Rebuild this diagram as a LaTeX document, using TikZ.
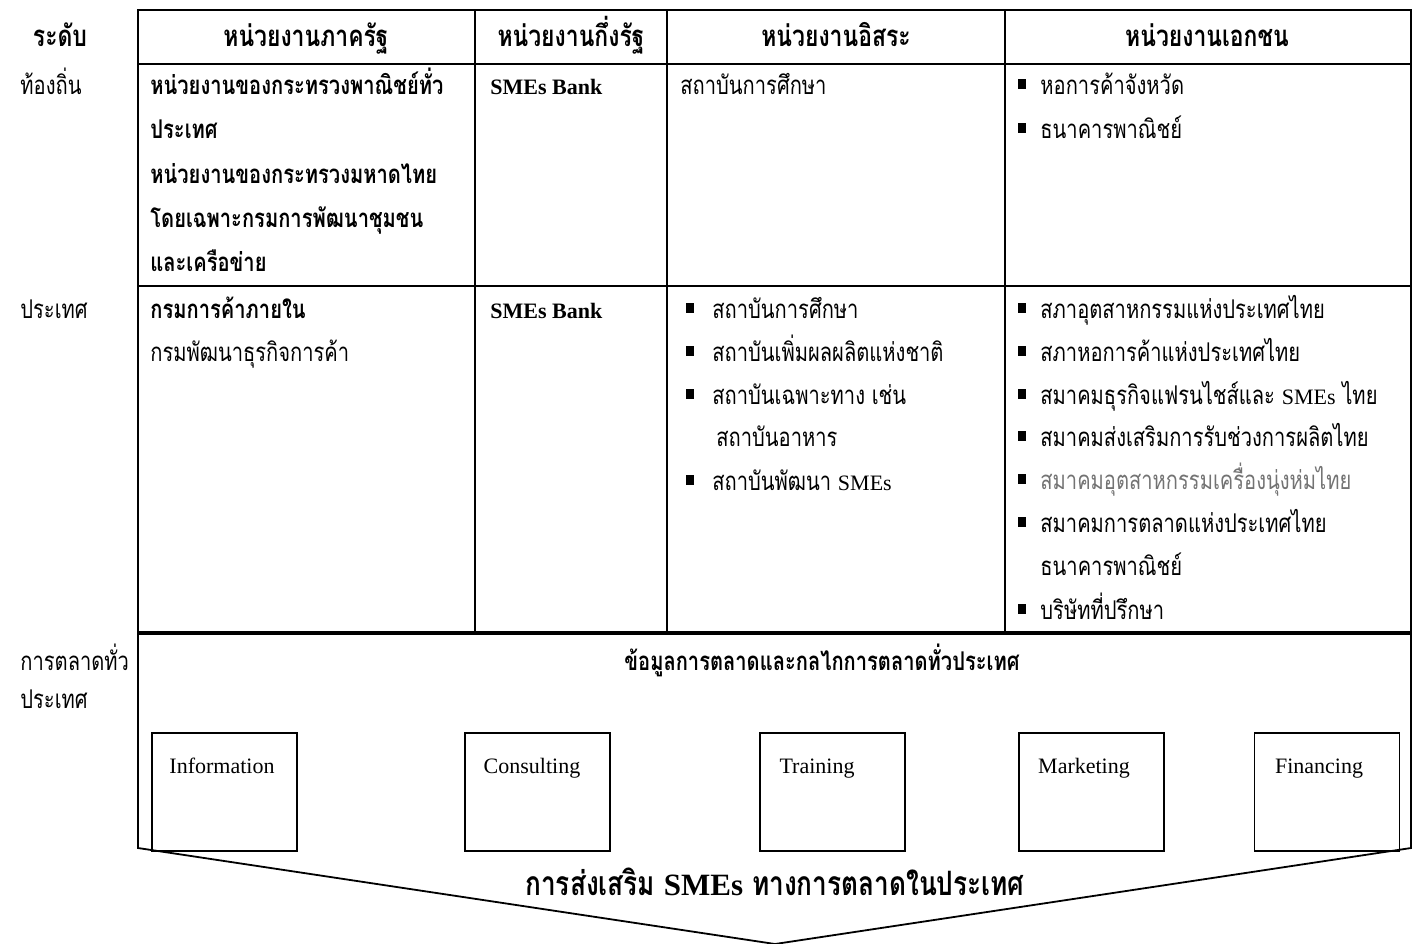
\documentclass[tikz,border=0pt]{standalone}
\usepackage{fontspec}
\setmainfont{Liberation Serif}
\newfontfamily\thaifont[Script=Thai,FakeStretch=0.78]{Loma}
\newcommand\szn{\fontsize{12.9}{15}\selectfont}
\newcommand\szh{\fontsize{14.7}{17}\selectfont}
\newcommand\szt{\fontsize{16.8}{19}\selectfont}
\newcommand\szl{\fontsize{11}{13}\selectfont}
\newcommand\lat[1]{{\rmfamily\fontsize{11}{13}\selectfont #1}}
\newcommand\latt[1]{{\rmfamily\fontsize{15.5}{18}\selectfont #1}}
\begin{document}
\begin{tikzpicture}[x=0.5pt,y=-0.5pt,
  tx/.style={anchor=base west,inner sep=0pt,font=\thaifont\szn},
  txb/.style={anchor=base west,inner sep=0pt,font=\thaifont\bfseries\szn},
  txg/.style={tx,text=black!55},
  hd/.style={anchor=base,inner sep=0pt,font=\thaifont\bfseries\szh},
  bul/.style={fill,inner sep=0pt,minimum width=3.6pt,minimum height=4.6pt},
  outer/.style={line width=1.3pt},
  inner/.style={line width=0.9pt},
  heavy/.style={line width=1.8pt},
  box/.style={draw,line width=0.8pt,inner sep=0pt,minimum width=72.5pt,minimum height=59pt},
  lab/.style={anchor=base,inner sep=0pt,font=\rmfamily\szl}]
\useasboundingbox (0,0) rectangle (1418,943);
\clip (0,0) rectangle (1418,943);
% table grid
\coordinate (tl) at (138,10);
\coordinate (tr) at (1411,10);
\coordinate (bl) at (138,633);
\coordinate (br) at (1411,633);
\draw[inner] (138,64) -- (1411,64);
\draw[inner] (138,286) -- (1411,286);
\draw[inner] (475,10) -- (475,633);
\draw[inner] (667,10) -- (667,633);
\draw[inner] (1005,10) -- (1005,633);
\draw[outer] (bl) -- (tl) -- (tr) -- (br);
\draw[heavy] (bl) -- (br);
% lower frame
\coordinate (fl) at (138,848);
\coordinate (fr) at (1411,848);
\coordinate (apex) at (775,944);
\draw[inner] (bl) -- (fl) -- (apex) -- (fr) -- (br);
% headers
\node[hd] (h0) at (60,46) {ระดับ};
\node[hd] (h1) at (306,46) {หน่วยงานภาครัฐ};
\node[hd] (h2) at (571,46) {หน่วยงานกึ่งรัฐ};
\node[hd] (h3) at (836,46) {หน่วยงานอิสระ};
\node[hd] (h4) at (1207,46) {หน่วยงานเอกชน};
% row labels
\node[tx] (r1) at (20,94) {ท้องถิ่น};
\node[tx] (r2) at (20,318) {ประเทศ};
\node[tx] (r3a) at (20,670) {การตลาดทั่ว};
\node[tx] (r3b) at (20,708) {ประเทศ};
% row 1
\node[txb] (a1) at (150,94) {หน่วยงานของกระทรวงพาณิชย์ทั่ว};
\node[txb] (a2) at (150,138) {ประเทศ};
\node[txb] (a3) at (150,183) {หน่วยงานของกระทรวงมหาดไทย};
\node[txb] (a4) at (150,227) {โดยเฉพาะกรมการพัฒนาชุมชน};
\node[txb] (a5) at (150,271) {และเครือข่าย};
\node[anchor=base west,inner sep=0pt,font=\rmfamily\bfseries\szl] (b1) at (490,94) {SMEs Bank};
\node[tx] (c1) at (680,94) {สถาบันการศึกษา};
\node[bul] (d1b) at (1022,84) {};
\node[tx] (d1) at (1040,94) {หอการค้าจังหวัด};
\node[bul] (d2b) at (1022,128) {};
\node[tx] (d2) at (1040,138) {ธนาคารพาณิชย์};
% row 2
\node[txb] (e1) at (150,318) {กรมการค้าภายใน};
\node[tx] (e2) at (150,361) {กรมพัฒนาธุรกิจการค้า};
\node[anchor=base west,inner sep=0pt,font=\rmfamily\bfseries\szl] (f1) at (490,318) {SMEs Bank};
\node[bul] (g1b) at (690,308) {};
\node[tx] (g1) at (712,318) {สถาบันการศึกษา};
\node[bul] (g2b) at (690,351) {};
\node[tx] (g2) at (712,361) {สถาบันเพิ่มผลผลิตแห่งชาติ};
\node[bul] (g3b) at (690,394) {};
\node[tx] (g3) at (712,404) {สถาบันเฉพาะทาง เช่น};
\node[tx] (g4) at (716,446) {สถาบันอาหาร};
\node[bul] (g5b) at (690,480) {};
\node[tx] (g5) at (712,490) {สถาบันพัฒนา \lat{SMEs}};
\node[bul] (k1b) at (1022,308) {};
\node[tx] (k1) at (1040,318) {สภาอุตสาหกรรมแห่งประเทศไทย};
\node[bul] (k2b) at (1022,351) {};
\node[tx] (k2) at (1040,361) {สภาหอการค้าแห่งประเทศไทย};
\node[bul] (k3b) at (1022,394) {};
\node[tx] (k3) at (1040,404) {สมาคมธุรกิจแฟรนไชส์และ \lat{SMEs} ไทย};
\node[bul] (k4b) at (1022,436) {};
\node[tx] (k4) at (1040,446) {สมาคมส่งเสริมการรับช่วงการผลิตไทย};
\node[bul] (k5b) at (1022,479) {};
\node[txg] (k5) at (1040,489) {สมาคมอุตสาหกรรมเครื่องนุ่งห่มไทย};
\node[bul] (k6b) at (1022,522) {};
\node[tx] (k6) at (1040,532) {สมาคมการตลาดแห่งประเทศไทย};
\node[tx] (k7) at (1040,575) {ธนาคารพาณิชย์};
\node[bul] (k8b) at (1022,609) {};
\node[tx] (k8) at (1040,619) {บริษัทที่ปรึกษา};
% bottom section
\node[anchor=base,inner sep=0pt,font=\thaifont\bfseries\szn] (m0) at (822,670) {ข้อมูลการตลาดและกลไกการตลาดทั่วประเทศ};
\node[box] (info) at (224.5,792) {};
\node[box] (cons) at (537.5,792) {};
\node[box] (trai) at (832.5,792) {};
\node[box] (mark) at (1091.5,792) {};
\node[box] (fina) at (1327,792) {};
\node[lab] (infol) at (222,773) {Information};
\node[lab] (consl) at (532,773) {Consulting};
\node[lab] (trail) at (817,773) {Training};
\node[lab] (markl) at (1084,773) {Marketing};
\node[lab] (final) at (1319,773) {Financing};
\node[anchor=base,inner sep=0pt,font=\thaifont\bfseries\szt] (title) at (775,895) {การส่งเสริม \latt{SMEs} ทางการตลาดในประเทศ};
\end{tikzpicture}
\end{document}
